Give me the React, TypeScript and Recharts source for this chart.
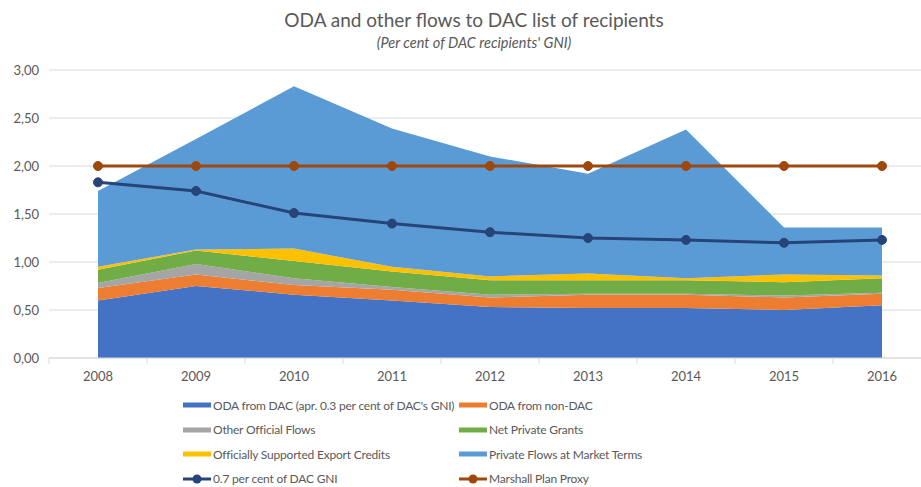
import { ComposedChart, Area, Line, XAxis, YAxis, CartesianGrid, Legend } from "recharts";

const years = ["2008", "2009", "2010", "2011", "2012", "2013", "2014", "2015", "2016"];
const odaDac = [0.6, 0.75, 0.66, 0.6, 0.53, 0.52, 0.52, 0.5, 0.55];
const odaNonDac = [0.13, 0.12, 0.1, 0.11, 0.1, 0.14, 0.14, 0.13, 0.12];
const otherOfficial = [0.05, 0.11, 0.07, 0.03, 0.03, 0.01, 0.01, 0.02, 0.01];
const privateGrants = [0.14, 0.14, 0.18, 0.16, 0.15, 0.14, 0.14, 0.14, 0.15];
const exportCredits = [0.03, 0.01, 0.13, 0.05, 0.04, 0.07, 0.02, 0.08, 0.03];
const marketFlows = [0.79, 1.15, 1.69, 1.44, 1.25, 1.04, 1.55, 0.49, 0.5];
const dacGni07 = [1.83, 1.74, 1.51, 1.4, 1.31, 1.25, 1.23, 1.2, 1.23];
const marshall = [2, 2, 2, 2, 2, 2, 2, 2, 2];
const yTicks = [0, 0.5, 1, 1.5, 2, 2.5, 3];

const areaSeries = [
  { key: "odaDac", name: "ODA from DAC (apr. 0.3 per cent of DAC's GNI)", color: "#4472C4" },
  { key: "odaNonDac", name: "ODA from non-DAC", color: "#ED7D31" },
  { key: "otherOfficial", name: "Other Official Flows", color: "#A5A5A5" },
  { key: "privateGrants", name: "Net Private Grants", color: "#70AD47" },
  { key: "exportCredits", name: "Officially Supported Export Credits", color: "#FFC000" },
  { key: "marketFlows", name: "Private Flows at Market Terms", color: "#5B9BD5" },
];
const lineSeries = [
  { key: "dacGni07", name: "0.7 per cent of DAC GNI", color: "#264478" },
  { key: "marshall", name: "Marshall Plan Proxy", color: "#9E480E" },
];

const data = years.map((year, i) => ({
  year,
  odaDac: odaDac[i],
  odaNonDac: odaNonDac[i],
  otherOfficial: otherOfficial[i],
  privateGrants: privateGrants[i],
  exportCredits: exportCredits[i],
  marketFlows: marketFlows[i],
  dacGni07: dacGni07[i],
  marshall: marshall[i],
}));

const FONT = "Lato, 'Open Sans', sans-serif";
const TEXT = "#595959";
const HALF_STEP = 49;

function YearTick({ x, y, payload, index }: any) {
  return (
    <g>
      <line x1={x - HALF_STEP} x2={x - HALF_STEP} y1={y} y2={y + 6} stroke="#d9d9d9" />
      {index === years.length - 1 && (
        <line x1={x + HALF_STEP} x2={x + HALF_STEP} y1={y} y2={y + 6} stroke="#d9d9d9" />
      )}
      <text x={x} y={y + 23} textAnchor="middle" fill={TEXT} fontSize={13} fontFamily={FONT}>
        {payload.value}
      </text>
    </g>
  );
}

function ChartLegend() {
  const items = [...areaSeries.map((s) => ({ ...s, line: false })), ...lineSeries.map((s) => ({ ...s, line: true }))];
  return (
    <div
      style={{
        display: "grid",
        gridTemplateColumns: "276px 300px",
        gridAutoRows: "24.5px",
        paddingLeft: 182,
        paddingTop: 5,
        height: 95,
        boxSizing: "border-box",
        fontFamily: FONT,
        fontSize: 12,
        letterSpacing: -0.2,
        color: TEXT,
      }}
    >
      {items.map((it) => (
        <div key={it.key} style={{ display: "flex", alignItems: "center", whiteSpace: "nowrap" }}>
          <svg width={30} height={12} style={{ marginRight: 1, flexShrink: 0 }}>
            {it.line ? (
              <>
                <line x1={1} x2={29} y1={6} y2={6} stroke={it.color} strokeWidth={3} />
                <circle cx={15} cy={6} r={4.5} fill={it.color} />
              </>
            ) : (
              <rect x={1} y={3.5} width={28} height={5} fill={it.color} />
            )}
          </svg>
          <span>{it.name}</span>
        </div>
      ))}
    </div>
  );
}

export default function App() {
  return (
    <div
      style={{
        position: "absolute",
        left: 0,
        top: 0,
        width: 921,
        height: 487,
        overflow: "hidden",
        background: "#fff",
      }}
    >
      <div style={{ position: "relative", width: 948, height: 487 }}>
        <div
          style={{
            position: "absolute",
            top: 8,
            left: 0,
            width: 948,
            textAlign: "center",
            fontFamily: FONT,
            color: TEXT,
            zIndex: 2,
          }}
        >
          <div style={{ fontSize: 19, lineHeight: "24px" }}>ODA and other flows to DAC list of recipients</div>
          <div style={{ fontSize: 14.5, fontStyle: "italic", lineHeight: "22px" }}>
            (Per cent of DAC recipients' GNI)
          </div>
        </div>
        <ComposedChart
          width={948}
          height={487}
          data={data}
          margin={{ top: 70, right: 17, left: 0, bottom: 4 }}
        >
          <CartesianGrid vertical={false} stroke="#d9d9d9" />
          <XAxis
            dataKey="year"
            padding={{ left: HALF_STEP, right: HALF_STEP }}
            axisLine={{ stroke: "#d9d9d9" }}
            tickLine={false}
            tickSize={0}
            tickMargin={0}
            height={30}
            interval={0}
            tick={<YearTick />}
          />
          <YAxis
            width={49}
            domain={[0, 3]}
            ticks={yTicks}
            axisLine={false}
            tickLine={false}
            tickSize={0}
            tickMargin={10}
            tick={{ fill: TEXT, fontSize: 13, fontFamily: FONT }}
            tickFormatter={(v: number) => v.toFixed(2).replace(".", ",")}
          />
          {areaSeries.map((s) => (
            <Area
              key={s.key}
              type="linear"
              dataKey={s.key}
              name={s.name}
              stackId="flows"
              stroke="none"
              fill={s.color}
              fillOpacity={1}
              isAnimationActive={false}
            />
          ))}
          {lineSeries.map((s) => (
            <Line
              key={s.key}
              type="linear"
              dataKey={s.key}
              name={s.name}
              stroke={s.color}
              strokeWidth={3}
              dot={{ r: 4.5, fill: s.color, stroke: s.color, strokeWidth: 1 }}
              activeDot={false}
              isAnimationActive={false}
            />
          ))}
          <Legend verticalAlign="bottom" content={() => <ChartLegend />} wrapperStyle={{ left: 0, width: 948 }} />
        </ComposedChart>
      </div>
    </div>
  );
}
